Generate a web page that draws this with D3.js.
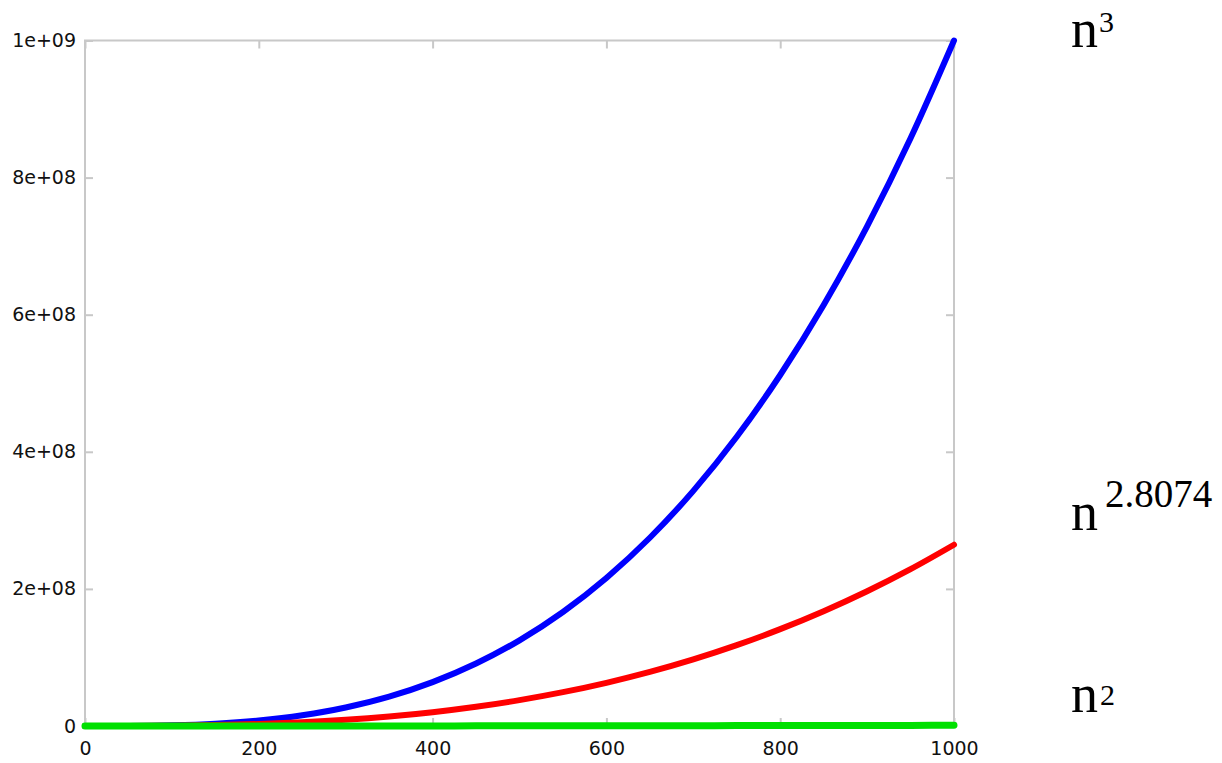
<!DOCTYPE html>
<html>
<head>
<meta charset="utf-8">
<script src="https://cdn.jsdelivr.net/npm/d3@7"></script>
<style>
  body { margin: 0; background: #fff; }
  svg { display: block; }
</style>
</head>
<body>
<div id="chart"></div>
<script>
// values (n from 0 to 1000, step 50)
const nValues = [0, 50, 100, 150, 200, 250, 300, 350, 400, 450, 500,
                 550, 600, 650, 700, 750, 800, 850, 900, 950, 1000];
const cubic = [0, 1.25e5, 1e6, 3.375e6, 8e6, 1.5625e7, 2.7e7, 4.2875e7, 6.4e7, 9.1125e7, 1.25e8,
               1.66375e8, 2.16e8, 2.74625e8, 3.43e8, 4.21875e8, 5.12e8, 6.14125e8, 7.29e8, 8.57375e8, 1e9];
const strassen = [0, 5.886e4, 4.118e5, 1.286e6, 2.884e6, 5.395e6, 9.0e6, 1.388e7, 2.018e7, 2.81e7, 3.777e7,
                  4.936e7, 6.301e7, 7.889e7, 9.712e7, 1.179e8, 1.413e8, 1.675e8, 1.966e8, 2.288e8, 2.644e8];
const square = [0, 2500, 1e4, 22500, 4e4, 62500, 9e4, 122500, 1.6e5, 202500, 2.5e5,
                302500, 3.6e5, 422500, 4.9e5, 562500, 6.4e5, 722500, 8.1e5, 902500, 1e6];
const xTicks = [0, 200, 400, 600, 800, 1000];
const yTicks = [0, 2e8, 4e8, 6e8, 8e8, 1e9];
const yTickLabels = ["0", "2e+08", "4e+08", "6e+08", "8e+08", "1e+09"];

const W = 1222, H = 763;
const margin = {top: 40.5, right: 268, bottom: 37, left: 85};
const width = W - margin.left - margin.right,
      height = H - margin.top - margin.bottom;

const svg = d3.select("#chart")
  .append("svg")
  .attr("width", W)
  .attr("height", H);

const g = svg.append("g")
  .attr("transform", `translate(${margin.left},${margin.top})`);

const x = d3.scaleLinear().domain([0, 1000]).range([0, width]);
const y = d3.scaleLinear().domain([0, 1e9]).range([height, 0]);

const gridColor = "#c8c8c8";
const tickLen = 8;

// tick marks (inward, on all four sides)
function tickStyle(sel) {
  sel.select(".domain").remove();
  sel.selectAll(".tick line").attr("stroke", gridColor).attr("stroke-width", 2);
  sel.selectAll(".tick text")
    .attr("fill", "#111")
    .style("font-family", "DejaVu Sans")
    .style("font-size", "19px");
}

g.append("g")
  .attr("transform", `translate(0,${height})`)
  .call(d3.axisBottom(x).tickValues(xTicks).tickSize(-tickLen).tickPadding(16).tickFormat(d3.format("d")))
  .call(tickStyle);

g.append("g")
  .call(d3.axisTop(x).tickValues(xTicks).tickSize(-tickLen).tickFormat(""))
  .call(tickStyle);

g.append("g")
  .call(d3.axisLeft(y).tickValues(yTicks).tickSize(-tickLen)
    .tickFormat((d, i) => yTickLabels[i]).tickPadding(9))
  .call(tickStyle);

g.append("g")
  .attr("transform", `translate(${width},0)`)
  .call(d3.axisRight(y).tickValues(yTicks).tickSize(-tickLen).tickFormat(""))
  .call(tickStyle);

// border
g.append("rect")
  .attr("width", width)
  .attr("height", height)
  .attr("fill", "none")
  .attr("stroke", gridColor)
  .attr("stroke-width", 2);

// curves
const series = [
  {values: cubic, color: "#0000ff", w: 6},
  {values: strassen, color: "#ff0000", w: 6},
  {values: square, color: "#00e000", w: 7}
];

const line = d3.line()
  .x((d, i) => x(nValues[i]))
  .y(d => y(d))
  .curve(d3.curveMonotoneX);

g.selectAll(".curve")
  .data(series)
  .join("path")
    .attr("class", "curve")
    .attr("fill", "none")
    .attr("stroke", d => d.color)
    .attr("stroke-width", d => d.w)
    .attr("stroke-linecap", "round")
    .attr("stroke-linejoin", "round")
    .attr("d", d => line(d.values));

// labels on the right
const lab = svg.append("g")
  .style("font-family", "Liberation Serif, Times New Roman, serif")
  .attr("fill", "#000");

function powerLabel(yBase, exp, supX, supY, supSize) {
  const t = lab.append("text").attr("x", 1071).attr("y", yBase).style("font-size", "54px");
  t.append("tspan").text("n");
  t.append("tspan").attr("x", supX).attr("y", supY).style("font-size", supSize + "px").text(exp);
}

powerLabel(47, "3", 1099, 32, 30);
powerLabel(530, "2.8074", 1105, 507, 39);
powerLabel(712, "2", 1100, 705, 30);
</script>
</body>
</html>
